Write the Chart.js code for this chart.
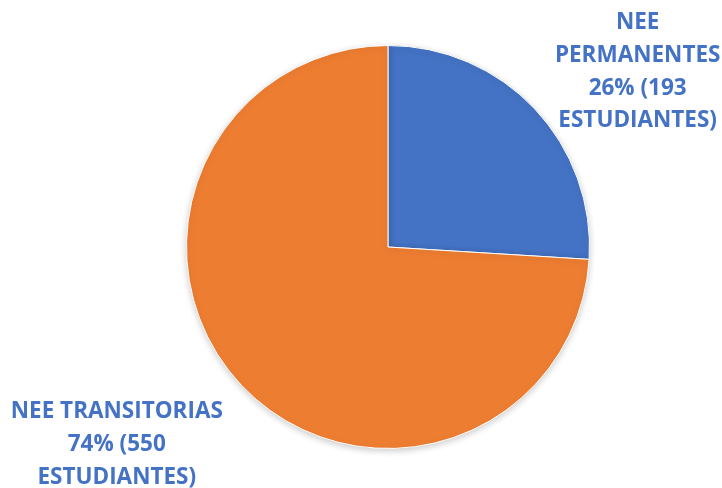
<!DOCTYPE html>
<html>
<head>
<meta charset="utf-8">
<script src="https://cdn.jsdelivr.net/npm/chart.js@4/dist/chart.umd.min.js"></script>
<style>
  html, body { margin: 0; padding: 0; background: #ffffff; }
  #wrap { width: 722px; height: 488px; position: relative; }
</style>
</head>
<body>
<div id="wrap"><canvas id="c" width="722" height="488"></canvas></div>
<script>
const categories = ['NEE PERMANENTES', 'NEE TRANSITORIAS'];
const values = [193, 550];
const percentLabels = ['26%', '74%'];
const labelLines = [
  ['NEE', 'PERMANENTES', percentLabels[0] + ' (' + values[0], 'ESTUDIANTES)'],
  ['NEE TRANSITORIAS', percentLabels[1] + ' (' + values[1], 'ESTUDIANTES)']
];
const colors = ['#4472C4', '#ED7D31'];

// label anchors (centre x, first baseline y) relative to pie centre, in units of radius (layout only)
const labelAnchors = [
  { dx: 1.239, dy: -1.08 },
  { dx: -1.346, dy: 0.851 }
];

const shadowPlugin = {
  id: 'shadow',
  beforeDatasetsDraw(chart) {
    const ctx = chart.ctx;
    ctx.save();
    ctx.shadowColor = 'rgba(0,0,0,0.2)';
    ctx.shadowBlur = 7;
    ctx.shadowOffsetX = 0;
    ctx.shadowOffsetY = 2;
  },
  afterDatasetsDraw(chart) {
    chart.ctx.restore();
  }
};

const labelPlugin = {
  id: 'sliceLabels',
  afterDraw(chart) {
    const ctx = chart.ctx;
    const meta = chart.getDatasetMeta(0);
    ctx.save();
    ctx.font = 'bold 22.5px "Open Sans", sans-serif';
    ctx.fillStyle = '#4472C4';
    ctx.textAlign = 'center';
    ctx.textBaseline = 'alphabetic';
    const lh = 32.7;
    meta.data.forEach((arc, i) => {
      const r = arc.outerRadius;
      const cx = arc.x + labelAnchors[i].dx * r;
      const y0 = arc.y + labelAnchors[i].dy * r;
      labelLines[i].forEach((t, k) => {
        ctx.fillText(t, cx, y0 + k * lh);
      });
    });
    ctx.restore();
  }
};

new Chart(document.getElementById('c'), {
  type: 'pie',
  data: {
    labels: categories,
    datasets: [{
      data: values,
      backgroundColor: colors,
      borderColor: '#ffffff',
      borderWidth: 1
    }]
  },
  options: {
    responsive: false,
    animation: false,
    layout: { padding: { top: 45, bottom: 39, left: 186, right: 132 } },
    plugins: {
      legend: { display: false },
      tooltip: { enabled: false }
    }
  },
  plugins: [shadowPlugin, labelPlugin]
});
</script>
</body>
</html>
